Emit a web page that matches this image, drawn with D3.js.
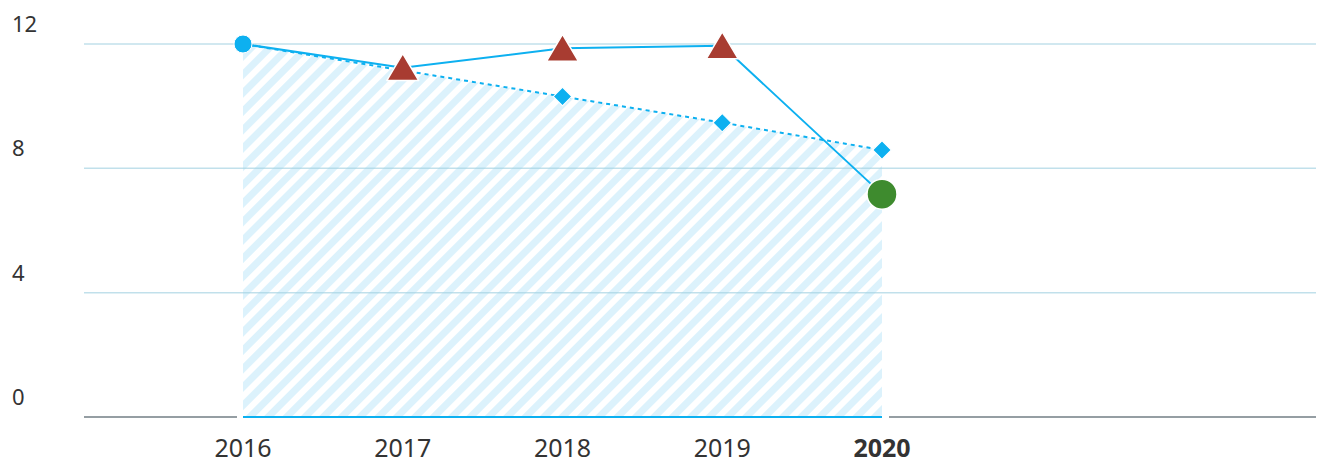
<!DOCTYPE html>
<html>
<head>
<meta charset="utf-8">
<script src="https://cdn.jsdelivr.net/npm/d3@7"></script>
<style>
  body { margin: 0; background: #fff; }
  svg { display: block; font-family: "Noto Sans", sans-serif; }
</style>
</head>
<body>
<div id="chart"></div>
<script>
// data
const years = [2016, 2017, 2018, 2019, 2020];
const actual = [12.0, 11.24, 11.86, 11.94, 7.17];     // solid line
const trend = [12.0, 11.15, 10.31, 9.47, 8.59];       // dotted line + hatched area
const yTicks = [0, 4, 8, 12];
const markerKind = ["dot", "tri", "tri", "tri", "big"];

const width = 1330, height = 464;
const blue = "#0db0f0";

const svg = d3.select("#chart").append("svg")
  .attr("width", width)
  .attr("height", height);

const x = d3.scaleLinear().domain([2016, 2020]).range([243, 882]);
const y = d3.scaleLinear().domain([0, 12]).range([417, 44]);

// hatch pattern
const defs = svg.append("defs");
const pat = defs.append("pattern")
  .attr("id", "hatch")
  .attr("patternUnits", "userSpaceOnUse")
  .attr("width", 13).attr("height", 13)
  .attr("patternTransform", "rotate(45)");
pat.append("rect").attr("width", 13).attr("height", 13).attr("fill", "#fff");
pat.append("rect").attr("width", 7).attr("height", 13).attr("fill", "#dcf2fc");

// area under trend
const area = d3.area()
  .x((d, i) => x(years[i]))
  .y0(y(0))
  .y1(d => y(d));
svg.append("path")
  .datum(trend)
  .attr("d", area)
  .attr("fill", "url(#hatch)");

// gridlines
svg.append("g")
  .selectAll("line")
  .data(yTicks.filter(d => d > 0))
  .join("line")
  .attr("x1", 84).attr("x2", 1316)
  .attr("y1", d => y(d)).attr("y2", d => y(d))
  .attr("stroke", "#9fcfe0")
  .attr("stroke-opacity", 0.65)
  .attr("stroke-width", 1.5);

// y labels
svg.append("g")
  .selectAll("text")
  .data(yTicks)
  .join("text")
  .attr("x", 12)
  .attr("y", d => y(d) - 12)
  .attr("font-size", 22)
  .attr("fill", "#333")
  .text(d => d);

// baseline: gray outside, blue under the area
svg.append("line")
  .attr("x1", 84).attr("x2", x(2016) - 6)
  .attr("y1", y(0)).attr("y2", y(0))
  .attr("stroke", "#959ea3").attr("stroke-width", 2);
svg.append("line")
  .attr("x1", x(2020) + 7).attr("x2", 1316)
  .attr("y1", y(0)).attr("y2", y(0))
  .attr("stroke", "#959ea3").attr("stroke-width", 2);
svg.append("line")
  .attr("x1", x(2016)).attr("x2", x(2020))
  .attr("y1", y(0)).attr("y2", y(0))
  .attr("stroke", blue).attr("stroke-width", 2);

// x labels
svg.append("g")
  .selectAll("text")
  .data(years)
  .join("text")
  .attr("x", d => x(d))
  .attr("y", 457)
  .attr("text-anchor", "middle")
  .attr("font-size", 25)
  .attr("font-weight", d => d === 2020 ? "bold" : "normal")
  .attr("fill", "#333")
  .text(d => d);

// dotted trend line
const line = d3.line().x((d, i) => x(years[i])).y(d => y(d));
svg.append("path")
  .datum(trend)
  .attr("d", line)
  .attr("fill", "none")
  .attr("stroke", blue)
  .attr("stroke-width", 2)
  .attr("stroke-dasharray", "4,4");

// diamonds
svg.append("g")
  .selectAll("path")
  .data(trend.slice(1))
  .join("path")
  .attr("transform", (d, i) => `translate(${x(years[i + 1])},${y(d)}) rotate(45)`)
  .attr("d", "M-6.5,-6.5H6.5V6.5H-6.5Z")
  .attr("fill", blue)
  .attr("stroke", "#fff")
  .attr("stroke-width", 1);

// solid actual line
svg.append("path")
  .datum(actual)
  .attr("d", line)
  .attr("fill", "none")
  .attr("stroke", blue)
  .attr("stroke-width", 2);

// markers for actual line
const mk = svg.append("g")
  .selectAll("g")
  .data(actual)
  .join("g")
  .attr("transform", (d, i) => `translate(${x(years[i])},${y(d)})`);

mk.filter((d, i) => markerKind[i] === "dot")
  .append("circle")
  .attr("r", 9)
  .attr("fill", blue)
  .attr("stroke", "#fff")
  .attr("stroke-width", 1);

mk.filter((d, i) => markerKind[i] === "tri")
  .append("path")
  .attr("d", "M0,-14L16,13H-16Z")
  .attr("fill", "#a83c31")
  .attr("stroke", "#fff")
  .attr("stroke-width", 1.5)
  .attr("stroke-linejoin", "round");

mk.filter((d, i) => markerKind[i] === "big")
  .append("circle")
  .attr("r", 15)
  .attr("fill", "#3e8b2e")
  .attr("stroke", "#fff")
  .attr("stroke-width", 1.5);
</script>
</body>
</html>
